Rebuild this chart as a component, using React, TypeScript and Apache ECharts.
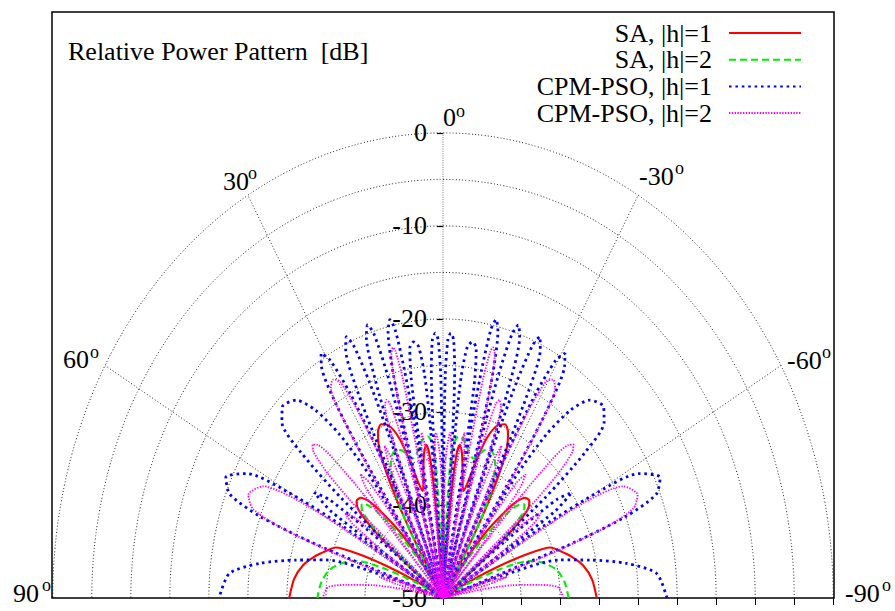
import React, { useEffect, useRef } from 'react';
import * as echarts from 'echarts';

// ---------- data (half patterns: [angle from broadside in degrees, relative power in dB]) ----------
// Patterns are symmetric about 0°, so the right half (negative angles) mirrors the left half.
const RED_HALF: [number, number][] = [
  [0, -39], [0.7, -45], [1.4, -50],
  [4.4, -50], [5.0, -44], [5.6, -38], [6.4, -34.5], [7.4, -33.4], [8.6, -34], [10, -35.6], [11.5, -37.4],
  [12.8, -38.2], [14.3, -37.2], [16, -34.8], [18, -32], [20.5, -30.2], [23, -29.7], [25, -30.3], [26.8, -31.8],
  [28.2, -34.5], [29.5, -38.5], [30.5, -43], [31.3, -50],
  [34, -50], [35.5, -45], [37.5, -41.5], [40, -38.5], [42.2, -36], [44.5, -34.9], [46.8, -34.8], [48.8, -35.6],
  [50.2, -37.8], [51.2, -41], [52, -45], [52.8, -50],
  [60, -50], [62.5, -46], [64.5, -42], [66.5, -38], [68.5, -35.2], [71, -34.3], [75, -32.9], [79, -31.7],
  [84, -30.8], [90, -30.3],
];

const GREEN_HALF: [number, number][] = [
  [0, -40], [0.7, -45], [1.4, -50],
  [2.2, -50], [2.8, -43], [3.5, -36.5], [4.6, -33.5], [6.5, -32.5], [8.5, -32.7], [10.5, -33.4], [12.5, -34.2],
  [14.6, -34.5], [16.5, -34], [18.7, -33.2], [20.8, -33], [23, -33.3], [25, -34.2], [26.8, -35.6], [28.5, -37.5],
  [30, -40.5], [31.2, -45], [32.2, -50],
  [35, -50], [37, -45], [39.5, -41], [42, -37.8], [44.2, -36], [46, -35.5], [47.8, -36], [49.3, -37.8],
  [50.5, -40.5], [51.5, -44.5], [52.5, -50],
  [62, -50], [64.5, -46], [67, -42], [69.2, -39], [71.2, -37.6], [74.5, -36.3], [78.4, -35.1], [84, -34.3],
  [90, -33.9],
];

const BLUE_HALF: [number, number][] = [
  [0, -50], [0.3, -36], [0.7, -26], [1.3, -22.2], [2, -21.5], [2.8, -22.2], [3.5, -25.5], [4, -32], [4.4, -50],
  [5, -32], [5.6, -26], [6.6, -22.8], [7.8, -22.2], [9, -22.8], [9.8, -26], [10.2, -32], [10.5, -50],
  [11, -32], [11.4, -25], [12, -20.5], [12.8, -19.3], [13.8, -20.5], [14.8, -25], [15.2, -32], [15.5, -50],
  [16, -32], [16.5, -25], [17.3, -20.3], [18.2, -19.1], [19.3, -20.3], [20.3, -25], [20.8, -32], [21.1, -50],
  [21.6, -32], [22.1, -25], [22.9, -20.5], [23.8, -19.3], [25, -20.5], [26.2, -25], [26.8, -32], [27.2, -50],
  [27.8, -32], [28.4, -25], [29.5, -20.6], [30.7, -19.4], [32, -20.6], [33.3, -25], [34, -32], [34.5, -50],
  [35.5, -34], [37, -28], [39, -24], [41.5, -21.6], [45, -20.9], [47.5, -22], [49.3, -26], [50.5, -33], [51.2, -50],
  [52.5, -40], [54, -32], [55.5, -30], [57, -33], [58, -50],
  [59, -35], [60.2, -27], [62, -21.5], [65, -19.3], [67.8, -20.5], [69.5, -25], [70.5, -33], [71.2, -50],
  [72.5, -42], [74.7, -34.5], [77.8, -30.7], [81, -26.2], [84.5, -22.5], [90, -21.3],
];

const MAGENTA_HALF: [number, number][] = [
  [0, -50], [0.5, -42], [1.3, -35], [2.9, -32.2], [4.3, -35], [5, -42], [5.5, -50],
  [6.2, -42], [7, -35], [8.8, -32], [10.3, -35], [11, -42], [11.5, -50],
  [11.9, -34], [12.3, -26], [12.9, -22.8], [13.4, -22.3], [14.2, -23], [15, -27], [15.6, -34], [16, -50],
  [16.6, -38], [17.3, -31], [18, -28], [18.8, -27.5], [19.7, -28], [20.6, -31], [21.2, -38], [21.6, -50],
  [22.5, -40], [23.5, -34], [24.6, -32], [25.7, -34], [26.6, -40], [27.2, -50],
  [27.8, -35], [28.5, -27], [29.6, -23.2], [31, -22.6], [32.4, -23.2], [33.6, -27], [34.4, -35], [35, -50],
  [36, -40], [37.2, -34.5], [38.5, -33], [39.8, -34.5], [41, -40], [41.6, -50],
  [42.3, -36], [43.2, -29.5], [44.3, -27], [45.4, -26.5], [46.6, -27.2], [47.8, -30], [48.8, -36], [49.5, -50],
  [51, -42], [52.5, -36], [54, -34.5], [55.5, -36], [57, -42], [58.3, -50],
  [59.3, -38], [60.5, -29], [62.5, -24], [66, -22.7], [68.5, -23.8], [70, -28], [71, -36], [71.6, -50],
  [73, -44], [74.5, -41.5], [76, -44], [77.5, -50],
  [79.5, -45], [81.2, -41], [83.5, -37.5], [85.3, -35.3], [88, -34.8], [90, -34.6],
];

const SERIES_NAMES = ['SA, |h|=1', 'SA, |h|=2', 'CPM-PSO, |h|=1', 'CPM-PSO, |h|=2'];

// axes / grid
const DB_FLOOR = -50;
const DB_TOP = 0;
const RADIAL_TICKS = [-50, -40, -30, -20, -10, 0];
const RING_LEVELS = [-45, -40, -35, -30, -25, -20, -15, -10, -5, 0];
const SPOKE_ANGLES = [60, 30, 0, -30, -60];
const BASE_TICKS = [0, 5, 10, 15, 20, 25, 30, 35, 40, 45, 50];
const ANGLE_LABELS = ['0', '30', '-30', '60', '-60', '90', '-90'];
const TITLE = 'Relative Power Pattern  [dB]';

// ---------- layout / style (pixels) ----------
const W = 895;
const H = 611;
const GRID_LEFT = 52;
const CENTER_X = 443;
const FONT = '"Liberation Serif", "Times New Roman", Times, serif';
const ANGLE_LABEL_POS: Record<string, { x: number; y: number; ox: number; oy: number }> = {
  '0': { x: 443, y: 117, ox: 456, oy: 111 },
  '30': { x: 223, y: 181, ox: 248, oy: 173 },
  '-30': { x: 639, y: 176, ox: 675, oy: 168 },
  '60': { x: 63, y: 359, ox: 90, oy: 352 },
  '-60': { x: 787, y: 360, ox: 822, oy: 352 },
  '90': { x: 13, y: 593, ox: 42, oy: 585 },
  '-90': { x: 845, y: 593, ox: 882, oy: 585 },
};

const toRad = (d: number) => (d * Math.PI) / 180;
// angle positive to the left (gnuplot style), radius = dB above floor
function polarToXY(thetaDeg: number, db: number): [number, number] {
  const r = Math.max(db - DB_FLOOR, 0);
  return [-r * Math.sin(toRad(thetaDeg)), r * Math.cos(toRad(thetaDeg))];
}

function fullPattern(half: [number, number][]): [number, number][] {
  const pts: [number, number][] = [];
  for (let i = half.length - 1; i >= 0; i--) pts.push(polarToXY(-half[i][0], half[i][1]));
  for (let i = half[0][0] === 0 ? 1 : 0; i < half.length; i++) pts.push(polarToXY(half[i][0], half[i][1]));
  return pts;
}

function ringPoints(level: number): [number, number][] {
  const pts: [number, number][] = [];
  for (let a = -90; a <= 90; a += 2) pts.push(polarToXY(a, level));
  return pts;
}

export default function App() {
  const ref = useRef<HTMLDivElement>(null);

  useEffect(() => {
    if (!ref.current) return;
    const chart = echarts.init(ref.current, undefined, { renderer: 'svg' });

    const gridStyle = { color: '#111', width: 0.9, type: [1, 2.2] };
    const gridSeries: any[] = RING_LEVELS.map((lv) => ({
      type: 'line',
      data: ringPoints(lv),
      smooth: true,
      symbol: 'none',
      silent: true,
      z: 1,
      lineStyle: gridStyle,
    }));
    SPOKE_ANGLES.forEach((a) => {
      gridSeries.push({
        type: 'line',
        data: [polarToXY(a, DB_FLOOR), polarToXY(a, DB_TOP)],
        symbol: 'none',
        silent: true,
        z: 1,
        lineStyle: a === 0 ? { color: '#777', width: 1, type: [1, 1.3] } : gridStyle,
      });
    });

    const styles = [
      { color: '#ff0000', width: 2.1, type: 'solid' as any },
      { color: '#00ee00', width: 2.1, type: [7, 4] },
      { color: '#0000ff', width: 2.8, type: [2.6, 3.8] },
      { color: '#ff00ff', width: 1.8, type: [1.4, 1.4] },
    ];
    const halves = [RED_HALF, GREEN_HALF, BLUE_HALF, MAGENTA_HALF];
    const dataSeries = halves.map((h, i) => ({
      name: SERIES_NAMES[i],
      type: 'line',
      data: fullPattern(h),
      smooth: 0.25,
      symbol: 'none',
      showSymbol: false,
      z: 3 + i,
      itemStyle: { color: styles[i].color },
      lineStyle: { color: styles[i].color, width: styles[i].width, type: styles[i].type, cap: 'butt' },
    }));

    const graphics: any[] = [
      {
        type: 'text',
        x: 68,
        y: 51,
        style: { text: TITLE, fontFamily: FONT, fontSize: 26, fill: '#000', align: 'left', verticalAlign: 'middle' },
      },
    ];
    ANGLE_LABELS.forEach((t) => {
      const p = ANGLE_LABEL_POS[t];
      graphics.push({
        type: 'text',
        x: p.x,
        y: p.y,
        style: { text: t, fontFamily: FONT, fontSize: 26, fill: '#000', align: 'left', verticalAlign: 'middle' },
      });
      graphics.push({
        type: 'text',
        x: p.ox,
        y: p.oy,
        style: { text: 'o', fontFamily: FONT, fontSize: 18, fill: '#000', align: 'left', verticalAlign: 'middle' },
      });
    });

    chart.setOption({
      animation: false,
      backgroundColor: '#fff',
      grid: { left: GRID_LEFT, right: 61, top: 12, bottom: 13, show: true, borderColor: '#000', borderWidth: 1.5 },
      xAxis: {
        type: 'value',
        min: -50.1,
        max: 50.1,
        axisLine: { show: false },
        splitLine: { show: false },
        axisLabel: { show: false },
        axisTick: { show: true, customValues: BASE_TICKS, length: 7, lineStyle: { color: '#000', width: 1 } },
      },
      yAxis: {
        type: 'value',
        min: 0,
        max: 63,
        position: 'left',
        offset: -(CENTER_X - GRID_LEFT),
        axisLine: { show: false, onZero: false },
        splitLine: { show: false },
        axisTick: {
          show: true,
          customValues: RADIAL_TICKS.map((v) => v - DB_FLOOR),
          length: 6,
          lineStyle: { color: '#000', width: 1.2 },
        },
        axisLabel: {
          customValues: RADIAL_TICKS.map((v) => v - DB_FLOOR),
          formatter: (v: number) => String(v + DB_FLOOR),
          margin: 16,
          fontFamily: FONT,
          fontSize: 26,
          color: '#000',
        },
      },
      legend: {
        data: SERIES_NAMES,
        orient: 'vertical',
        align: 'right',
        right: 93,
        top: 20,
        padding: 0,
        itemWidth: 72,
        itemHeight: 14,
        itemGap: 0.7,
        selectedMode: false,
        itemStyle: { opacity: 0 },
        textStyle: { fontFamily: FONT, fontSize: 26, lineHeight: 26, color: '#000', padding: [0, 12, 0, 0] },
      },
      graphic: graphics,
      series: [...gridSeries, ...dataSeries],
    });

    return () => chart.dispose();
  }, []);

  return <div ref={ref} style={{ position: 'fixed', left: 0, top: 0, width: W, height: H }} />;
}
